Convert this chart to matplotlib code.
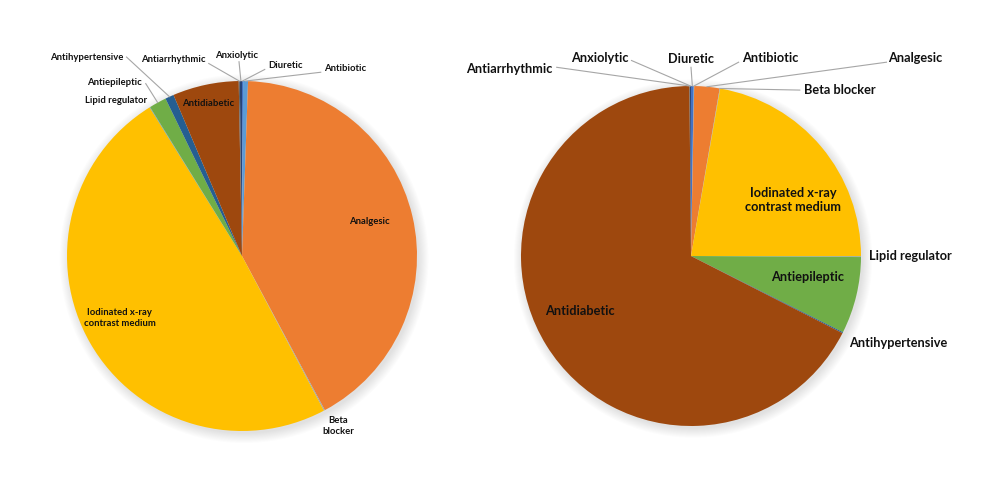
import numpy as np
import matplotlib
matplotlib.use("Agg")
import matplotlib.pyplot as plt
from matplotlib.patches import Circle

plt.rcParams['font.family'] = ['Lato', 'DejaVu Sans']

# slice order, clockwise from 12 o'clock
classes = ['Diuretic', 'Antibiotic', 'Analgesic', 'Beta blocker',
           'Iodinated x-ray contrast medium', 'Lipid regulator', 'Antiepileptic',
           'Antihypertensive', 'Antidiabetic', 'Antiarrhythmic', 'Anxiolytic']
colors = ['#4472C4', '#5B9BD5', '#ED7D31', '#A5A5A5', '#FFC000', '#5B9BD5',
          '#70AD47', '#255E91', '#9E480E', '#636363', '#264478']

# shares in percent
left_values = [0.1, 0.45, 41.6, 0.1, 48.9, 0.05, 1.6, 0.8, 6.1, 0.1, 0.2]
right_values = [0.25, 0.05, 2.4, 0.05, 22.3, 0.05, 7.3, 0.1, 67.35, 0.05, 0.1]

# label text, position (data units, pie radius = 1), leader start or None
left_labels = {
    'Analgesic': ('Analgesic', (0.73, 0.20), None),
    'Iodinated x-ray contrast medium': ('Iodinated x-ray\ncontrast medium', (-0.70, -0.354), None),
    'Beta blocker': ('Beta\nblocker', (0.55, -0.97), None),
    'Antidiabetic': ('Antidiabetic', (-0.194, 0.874), None),
    'Lipid regulator': ('Lipid regulator', (-0.72, 0.886), None),
    'Antiepileptic': ('Antiepileptic', (-0.731, 0.989), (-0.55, 0.985)),
    'Antihypertensive': ('Antihypertensive', (-0.886, 1.137), (-0.66, 1.137)),
    'Antiarrhythmic': ('Antiarrhythmic', (-0.394, 1.12), (-0.19, 1.10)),
    'Anxiolytic': ('Anxiolytic', (-0.029, 1.143), (-0.017, 1.11)),
    'Diuretic': ('Diuretic', (0.251, 1.086), (0.13, 1.066)),
    'Antibiotic': ('Antibiotic', (0.589, 1.074), (0.45, 1.05)),
}
right_labels = {
    'Antiarrhythmic': ('Antiarrhythmic', (-1.07, 1.10), (-0.79, 1.11)),
    'Anxiolytic': ('Anxiolytic', (-0.535, 1.165), (-0.35, 1.15)),
    'Diuretic': ('Diuretic', (0.0, 1.159), (0.0, 1.11)),
    'Antibiotic': ('Antibiotic', (0.465, 1.165), (0.28, 1.14)),
    'Analgesic': ('Analgesic', (1.318, 1.165), (1.15, 1.14)),
    'Beta blocker': ('Beta blocker', (0.876, 0.976), (0.64, 0.976)),
    'Iodinated x-ray contrast medium': ('Iodinated x-ray\ncontrast medium', (0.60, 0.329), None),
    'Lipid regulator': ('Lipid regulator', (1.288, 0.0), None),
    'Antiepileptic': ('Antiepileptic', (0.688, -0.124), None),
    'Antihypertensive': ('Antihypertensive', (1.218, -0.512), None),
    'Antidiabetic': ('Antidiabetic', (-0.653, -0.324), None),
}


def draw_pie(ax, values, labels, fontsize):
    # soft outer shadow
    for k in range(10):
        ax.add_patch(Circle((0.012, -0.015), 1.0 + 0.006 * k, color='black',
                            alpha=0.012, lw=0, zorder=0))
    wedges, _ = ax.pie(values, colors=colors, startangle=90, counterclock=False,
                       wedgeprops=dict(linewidth=0))
    for w in wedges:
        w.set_zorder(2)
    for name, w in zip(classes, wedges):
        text, pos, lead = labels[name]
        ax.text(pos[0], pos[1], text, ha='center', va='center', fontsize=fontsize,
                fontweight='bold', color='#111111', linespacing=1.25, zorder=4)
        if lead is not None:
            mid = np.deg2rad((w.theta1 + w.theta2) / 2)
            ex, ey = np.cos(mid), np.sin(mid)
            ax.plot([lead[0], ex], [lead[1], ey], color='#A6A6A6', lw=0.8, zorder=3)
    ax.set_xlim(-1, 1)
    ax.set_ylim(-1, 1)
    ax.set_aspect('equal')
    ax.axis('off')


fig = plt.figure(figsize=(10, 4.93), dpi=100)
W, H = 1000, 493

# left pie: centre (242, 256) px, radius 175 px
ax1 = fig.add_axes([(242 - 175) / W, (H - 256 - 175) / H, 350 / W, 350 / H])
draw_pie(ax1, left_values, left_labels, 6.8)

# right pie: centre (691, 256) px, radius 170 px
ax2 = fig.add_axes([(691 - 170) / W, (H - 256 - 170) / H, 340 / W, 340 / H])
draw_pie(ax2, right_values, right_labels, 9.2)

for ax in (ax1, ax2):
    for t in ax.texts:
        t.set_clip_on(False)
    for l in ax.lines:
        l.set_clip_on(False)
    for p in ax.patches:
        p.set_clip_on(False)

fig.savefig('out.png', dpi=100)
